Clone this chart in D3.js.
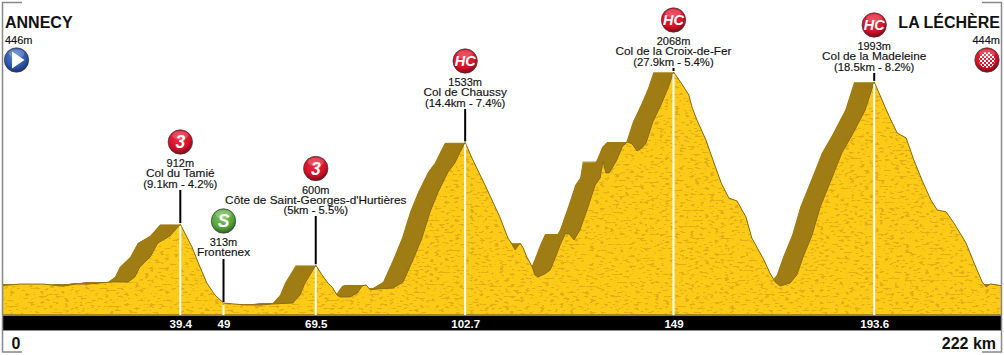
<!DOCTYPE html>
<html><head><meta charset="utf-8">
<script src="https://cdn.jsdelivr.net/npm/d3@7"></script>
<style>html,body{margin:0;padding:0;background:#fff}svg{display:block}text{font-family:"Liberation Sans",Arial,sans-serif}</style>
</head><body><svg id="c" width="1004" height="355"></svg>
<script>
const profileKm=[0,3.8,6.7,8.9,10.9,13.3,16.4,18.9,21.6,24.4,27.8,29.3,30.4,32.7,34.4,37.1,39.4,40.4,42,43.4,45.3,47.1,49,51.1,54.2,57.1,60,64.4,66,67.1,68.2,69.5,70.9,72.2,73.3,74.2,74.9,77.1,78.7,79.8,80.7,81.6,83.3,86.7,88.9,91.1,93.1,94.9,96.7,98.9,100.4,101.6,102.7,104.2,107.1,110.4,112.2,113.1,113.8,114.9,115.6,116.4,117.6,118.2,118.9,120.4,121.6,122.7,123.8,124.9,125.8,126.9,128.2,130,131.6,132.7,133.3,134,134.7,136.4,137.6,138.7,139.8,140.9,142,142.9,144.4,146.4,147.8,149,150.7,152.4,153.1,154.2,156.2,158,159.6,161.3,163.1,165.1,166.4,169.1,170.4,171.6,172.7,174.9,176.4,177.8,179.8,181.6,184.2,186.4,188.7,191.6,193.6,196,197.1,198.7,200.7,202.4,204.2,206.2,207.6,209.6,211.3,214,215.8,217.6,218.5,219.4,222];
const profileEle=[446,457,457,457,450,442,457,457,465,473,473,511,587,663,769,822,912,845,739,617,465,374,313,306,298,298,306,313,374,465,526,600,526,465,427,374,359,359,389,442,450,413,420,427,473,640,807,1005,1157,1309,1377,1461,1533,1415,1210,967,807,761,716,769,731,663,587,526,511,534,564,655,754,838,838,792,868,1043,1210,1263,1392,1301,1301,1400,1499,1537,1522,1468,1491,1529,1689,1833,1947,2068,1985,1894,1803,1704,1552,1377,1225,1111,1088,967,807,640,542,473,442,465,526,663,830,1043,1263,1453,1590,1780,1993,1803,1719,1605,1567,1400,1248,1096,1020,1005,921,769,617,473,435,458,444];
const climbKm=[39.4,49,69.5,102.7,149,193.6];
const climbEle=[912,313,600,1533,2068,1993];
const climbNames=["Col du Tamié","Frontenex","Côte de Saint-Georges-d'Hurtières","Col de Chaussy","Col de la Croix-de-Fer","Col de la Madeleine"];
const climbDetails=["(9.1km - 4.2%)","","(5km - 5.5%)","(14.4km - 7.4%)","(27.9km - 5.4%)","(18.5km - 8.2%)"];
const climbCats=["3","S","3","HC","HC","HC"];
const kmTickLabels=["39.4","49","69.5","102.7","149","193.6"];
const startName="ANNECY",finishName="LA LÉCHÈRE",startEle="446m",finishEle="444m",startKm="0",finishKm="222 km";

// layout
const stemTop=[190,259,216,109,68,73];
const badgeY=[142,221,168.5,61,20,25];
const W=1004,H=355,L=3,R=1001,BASE=315,BAR=330;
const x=d3.scaleLinear().domain([0,222]).range([3,1002]);
const y=d3.scaleLinear().domain([0,2068]).range([344.2,72]);
const pts=profileKm.map((k,i)=>[k,profileEle[i]]);
const svg=d3.select("#c");
const defs=svg.append("defs");
defs.append("clipPath").attr("id","plot").append("rect").attr("x",L).attr("y",0).attr("width",R-L).attr("height",BASE);

const tex=defs.append("filter").attr("id","tex").attr("x",0).attr("y",0).attr("width","100%").attr("height","100%").attr("color-interpolation-filters","sRGB");
tex.append("feTurbulence").attr("type","fractalNoise").attr("baseFrequency","0.2 0.5").attr("numOctaves",2).attr("seed",11).attr("result","n");
tex.append("feColorMatrix").attr("in","n").attr("type","matrix").attr("values","0 0 0 0 0.88  0 0 0 0 0.68  0 0 0 0 0.09  0 0 0 -9 3.9").attr("result","sp");
tex.append("feComposite").attr("in","sp").attr("in2","SourceAlpha").attr("operator","in").attr("result","spc");
const fm=tex.append("feMerge");fm.append("feMergeNode").attr("in","SourceGraphic");fm.append("feMergeNode").attr("in","spc");

function grad(id,c0,c1,c2){const g=defs.append("radialGradient").attr("id",id).attr("cx","45%").attr("cy","35%").attr("r","68%");
 g.append("stop").attr("offset","0%").attr("stop-color",c0);g.append("stop").attr("offset","65%").attr("stop-color",c1);g.append("stop").attr("offset","100%").attr("stop-color",c2);}
grad("gRed","#ee2a3e","#d4102a","#6e0a16");grad("gGreen","#7fc45c","#55a33a","#255f1e");grad("gBlue","#5f86d2","#2d55a8","#142c66");
const pat=defs.append("pattern").attr("id","chk").attr("width",4).attr("height",4).attr("patternUnits","userSpaceOnUse").attr("x",0).attr("y",0);
pat.append("rect").attr("width",2).attr("height",2).attr("fill","#fff");pat.append("rect").attr("x",2).attr("y",2).attr("width",2).attr("height",2).attr("fill","#fff");

const area=d3.area().x(d=>x(d[0])).y0(BASE).y1(d=>y(d[1]));
const line=d3.line().x(d=>x(d[0])).y(d=>y(d[1]));
const plot=svg.append("g").attr("clip-path","url(#plot)");
plot.append("g").selectAll("path").data(d3.range(0,20.5,.5)).join("path").attr("d",area(pts)).attr("fill","#a07c14").attr("transform",d=>`translate(${-d},0)`);
plot.append("path").attr("d",area(pts)).attr("fill","#fccb17").attr("filter","url(#tex)");
plot.append("path").attr("d",line(pts)).attr("fill","none").attr("stroke","#8c6d10").attr("stroke-width",1);
plot.append("rect").attr("x",L).attr("y",BASE-1).attr("width",R-L).attr("height",1).attr("fill","#a8861a");

svg.append("g").selectAll("line").data(climbKm).join("line").attr("x1",d=>x(d)).attr("x2",d=>x(d))
 .attr("y1",(d,i)=>y(climbEle[i])+2).attr("y2",BASE).attr("stroke","#fff").attr("stroke-width",2);
svg.append("g").selectAll("line").data(climbKm).join("line").attr("x1",d=>x(d)).attr("x2",d=>x(d))
 .attr("y1",(d,i)=>stemTop[i]).attr("y2",(d,i)=>y(climbEle[i])-1).attr("stroke","#000").attr("stroke-width",2);

svg.append("rect").attr("x",L).attr("y",BASE+0.5).attr("width",R-L).attr("height",BAR-BASE-0.5).attr("fill","#000");
svg.append("line").attr("x1",L).attr("x2",R).attr("y1",BAR+.5).attr("y2",BAR+.5).attr("stroke","#888");
svg.append("path").attr("d","M22,2.5H2.5V352H22").attr("fill","none").attr("stroke","#888").attr("stroke-width",1.5);
svg.append("path").attr("d","M982,2.5H1001.5V352H982").attr("fill","none").attr("stroke","#888").attr("stroke-width",1.5);

svg.append("g").selectAll("text").data(kmTickLabels).join("text").attr("x",(d,i)=>x(climbKm[i])+.5).attr("y",328).attr("text-anchor","middle")
 .attr("font-size",11.5).attr("font-weight","bold").attr("fill","#fff").text(d=>d);

const lab=svg.append("g").attr("fill","#111").attr("text-anchor","middle").attr("stroke","#111").attr("stroke-width",.15);
function badge(cx,by,fill){
 const g=svg.append("g");
 g.append("circle").attr("cx",cx).attr("cy",by).attr("r",12.2).attr("fill",fill).attr("stroke","#3a3a3a").attr("stroke-width",.7);
 g.append("ellipse").attr("cx",cx).attr("cy",by-6.5).attr("rx",8).attr("ry",4.2).attr("fill","#fff").attr("opacity",.2);
 return g;
}
climbKm.forEach((k,i)=>{
 const cx=x(k),by=badgeY[i];
 const g=badge(cx,by,climbCats[i]==="S"?"url(#gGreen)":"url(#gRed)");
 g.append("text").attr("x",cx).attr("y",by+(climbCats[i]==="HC"?5:6)).attr("text-anchor","middle").attr("font-style","italic").attr("font-weight","bold")
  .attr("font-size",climbCats[i]==="HC"?14.5:17.5).attr("fill","#fff").text(climbCats[i]);
 const t0=by+25;
 lab.append("text").attr("x",cx).attr("y",t0).attr("font-size",11).text(climbEle[i]+"m");
 lab.append("text").attr("x",cx).attr("y",t0+10.3).attr("font-size",11.8).text(climbNames[i]);
 if(climbDetails[i]) lab.append("text").attr("x",cx).attr("y",t0+20.6).attr("font-size",11.3).text(climbDetails[i]);
});

svg.append("text").attr("x",5).attr("y",28).attr("font-size",16).attr("font-weight","bold").attr("fill","#111").text(startName);
svg.append("text").attr("x",1000).attr("y",28).attr("text-anchor","end").attr("font-size",16).attr("font-weight","bold").attr("fill","#111").text(finishName);
svg.append("text").attr("x",5).attr("y",44).attr("font-size",11).attr("fill","#111").attr("stroke","#111").attr("stroke-width",.15).text(startEle);
svg.append("text").attr("x",1000).attr("y",44).attr("text-anchor","end").attr("font-size",11).attr("fill","#111").attr("stroke","#111").attr("stroke-width",.15).text(finishEle);
svg.append("text").attr("x",16).attr("y",349).attr("text-anchor","middle").attr("font-size",16).attr("font-weight","bold").attr("fill","#111").text(startKm);
svg.append("text").attr("x",996).attr("y",349).attr("text-anchor","end").attr("font-size",16).attr("font-weight","bold").attr("fill","#111").text(finishKm);

badge(16.5,60,"url(#gBlue)");
svg.append("path").attr("d","M12,51.5L24.5,60L12,68.5Z").attr("fill","#fff");
badge(987,60,"url(#gRed)");
svg.append("circle").attr("cx",987).attr("cy",60).attr("r",8).attr("fill","url(#chk)");
</script></body></html>
